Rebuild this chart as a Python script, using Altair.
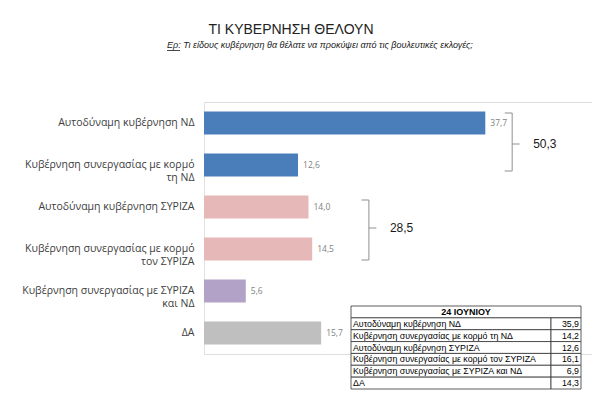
import altair as alt
import pandas as pd

# ---------------- data ----------------
title_text = "ΤΙ ΚΥΒΕΡΝΗΣΗ ΘΕΛΟΥΝ"
subtitle_text = "Ερ: Τι είδους κυβέρνηση θα θέλατε να προκύψει από τις βουλευτικές εκλογές;"

categories = [
    "Αυτοδύναμη κυβέρνηση ΝΔ",
    "Κυβέρνηση συνεργασίας με κορμό|τη ΝΔ",
    "Αυτοδύναμη κυβέρνηση ΣΥΡΙΖΑ",
    "Κυβέρνηση συνεργασίας με κορμό|τον ΣΥΡΙΖΑ",
    "Κυβέρνηση συνεργασίας με ΣΥΡΙΖΑ|και ΝΔ",
    "ΔΑ",
]
values = [37.7, 12.6, 14.0, 14.5, 5.6, 15.7]
groups = ["ND", "ND", "SYRIZA", "SYRIZA", "BOTH", "DA"]
group_names = ["ND", "SYRIZA", "BOTH", "DA"]
group_colors = ["#4a7ebb", "#e6b9b8", "#b3a2c7", "#bfbfbf"]

bracket_first = [categories[0], categories[2]]
bracket_last = [categories[1], categories[3]]
bracket_sums = [50.3, 28.5]

table_header = "24 ΙΟΥΝΙΟΥ"
table_labels = [
    "Αυτοδύναμη κυβέρνηση ΝΔ",
    "Κυβέρνηση συνεργασίας με κορμό τη ΝΔ",
    "Αυτοδύναμη κυβέρνηση ΣΥΡΙΖΑ",
    "Κυβέρνηση συνεργασίας με κορμό τον ΣΥΡΙΖΑ",
    "Κυβέρνηση συνεργασίας με ΣΥΡΙΖΑ και ΝΔ",
    "ΔΑ",
]
table_values = [35.9, 14.2, 12.6, 16.1, 6.9, 14.3]


def gr(v):
    return f"{v:.1f}".replace(".", ",")


# ---------------- layout ----------------
W, H = 388, 252
PAD_L, PAD_T = 196, 94
CANVAS_W, CANVAS_H = 584, 383
XMAX = 52

df = pd.DataFrame({"cat": categories, "val": values, "grp": groups,
                   "lab": [gr(v) for v in values]})

yscale = alt.Scale(domain=categories, paddingInner=0.45, paddingOuter=0.225)
xscale = alt.Scale(domain=[0, XMAX], nice=False)

bars = alt.Chart(df).mark_bar().encode(
    y=alt.Y("cat:N", scale=yscale, sort=categories, title=None,
            axis=alt.Axis(labelExpr="split(datum.label, '|')", labelFont="Open Sans",
                          labelFontSize=10.5, labelColor="#404040", labelPadding=10,
                          ticks=False, domainColor="#e3e3e3", labelLimit=0,
                          labelLineHeight=12.5)),
    x=alt.X("val:Q", scale=xscale, axis=None),
    color=alt.Color("grp:N", scale=alt.Scale(domain=group_names, range=group_colors),
                    legend=None),
)

labels = alt.Chart(df).mark_text(align="left", dx=5, font="Open Sans", fontSize=8.5,
                                 color="#7f7f7f").encode(
    y=alt.Y("cat:N", scale=yscale, sort=categories),
    x=alt.X("val:Q", scale=xscale),
    text="lab:N",
)

layers = [bars, labels]

# brackets: (x of vertical in data units, top offset, bottom offset)
bracket_style = [(41.3, -10, 6), (22.1, -7, 11)]
for i in range(2):
    bx, top_off, bot_off = bracket_style[i]
    bdf = pd.DataFrame({"a": [bracket_first[i]], "b": [bracket_last[i]],
                        "s": [gr(bracket_sums[i])]})
    ch = alt.Chart(bdf)
    vert = ch.mark_rule(color="#8f8f8f", strokeWidth=1, yOffset=top_off,
                        y2Offset=bot_off).encode(
        y=alt.Y("a:N", scale=yscale, sort=categories, bandPosition=0.5),
        y2=alt.Y2("b:N", bandPosition=0.5),
        x=alt.datum(bx, scale=xscale),
    )
    tick_top = ch.mark_rule(color="#8f8f8f", strokeWidth=1, yOffset=top_off).encode(
        y=alt.Y("a:N", scale=yscale, sort=categories),
        x=alt.datum(bx - 1.0, scale=xscale), x2=alt.datum(bx),
    )
    tick_bot = ch.mark_rule(color="#8f8f8f", strokeWidth=1, yOffset=bot_off).encode(
        y=alt.Y("b:N", scale=yscale, sort=categories),
        x=alt.datum(bx - 1.0, scale=xscale), x2=alt.datum(bx),
    )
    tick_mid = ch.mark_rule(color="#8f8f8f", strokeWidth=1, yOffset=21).encode(
        y=alt.Y("a:N", scale=yscale, sort=categories),
        x=alt.datum(bx, scale=xscale), x2=alt.datum(bx + 1.0),
    )
    txt = ch.mark_text(align="left", baseline="middle", yOffset=21, dx=21,
                       font="Liberation Sans", fontSize=12, color="#1a1a1a").encode(
        y=alt.Y("a:N", scale=yscale, sort=categories),
        x=alt.datum(bx, scale=xscale),
        text="s:N",
    )
    layers += [vert, tick_top, tick_bot, tick_mid, txt]

# subtitle
sub = alt.Chart(pd.DataFrame({"t": [subtitle_text]})).mark_text(
    align="left", baseline="alphabetic", font="Liberation Sans", fontSize=9,
    fontStyle="italic", color="#1a1a1a").encode(
    x=alt.value(-37), y=alt.value(-54), text="t:N")
sub_ul = alt.Chart(pd.DataFrame({"t": [subtitle_text]})).mark_rule(
    color="#1a1a1a", strokeWidth=0.8).encode(
    x=alt.value(-37), x2=alt.value(-24), y=alt.value(-51.5))
layers += [sub, sub_ul]

main = alt.layer(*layers)

# ---------------- table ----------------
rows = ["h"] + [str(i) for i in range(len(table_labels))]
tscale = alt.Scale(domain=rows, range=[204, 287], paddingInner=0, paddingOuter=0)
tdf = pd.DataFrame({"row": rows[1:], "label": table_labels,
                    "v": [gr(v) for v in table_values]})
hdf = pd.DataFrame({"row": ["h"], "label": [table_header]})

TX0, TX1, TX2 = 147, 347, 377
cell_style = dict(fill="white", stroke="#333333", strokeWidth=0.8)
t_head = alt.Chart(hdf).mark_rect(**cell_style).encode(
    y=alt.Y("row:N", scale=tscale, axis=None), x=alt.value(TX0), x2=alt.value(TX2))
t_head_txt = alt.Chart(hdf).mark_text(font="Liberation Sans", fontSize=9,
                                      fontWeight="bold", color="black").encode(
    y=alt.Y("row:N", scale=tscale, axis=None), x=alt.value((TX0 + TX2) / 2), text="label:N")
t_lab = alt.Chart(tdf).mark_rect(**cell_style).encode(
    y=alt.Y("row:N", scale=tscale, axis=None), x=alt.value(TX0), x2=alt.value(TX1))
t_val = alt.Chart(tdf).mark_rect(**cell_style).encode(
    y=alt.Y("row:N", scale=tscale, axis=None), x=alt.value(TX1), x2=alt.value(TX2))
t_lab_txt = alt.Chart(tdf).mark_text(align="left", font="Liberation Sans", fontSize=8.8,
                                     color="black").encode(
    y=alt.Y("row:N", scale=tscale, axis=None), x=alt.value(TX0 + 2), text="label:N")
t_val_txt = alt.Chart(tdf).mark_text(align="right", font="Liberation Sans", fontSize=8.8,
                                     color="black").encode(
    y=alt.Y("row:N", scale=tscale, axis=None), x=alt.value(TX2 - 2), text="v:N")

table = alt.layer(t_head, t_lab, t_val, t_head_txt, t_lab_txt, t_val_txt)

chart = alt.layer(main, table).resolve_scale(y="independent").properties(
    width=W, height=H,
    autosize=alt.AutoSizeParams(type="none"),
    padding={"left": PAD_L, "top": PAD_T, "right": CANVAS_W - PAD_L - W,
             "bottom": CANVAS_H - PAD_T - H},
    title=alt.Title(title_text, anchor="middle", dx=-107, offset=4, fontSize=14,
                    font="Liberation Sans", fontWeight="normal", color="#222222"),
).configure_view(stroke=None).configure(background="white")

chart.save("out.html", embed_options={"renderer": "svg", "actions": False})
